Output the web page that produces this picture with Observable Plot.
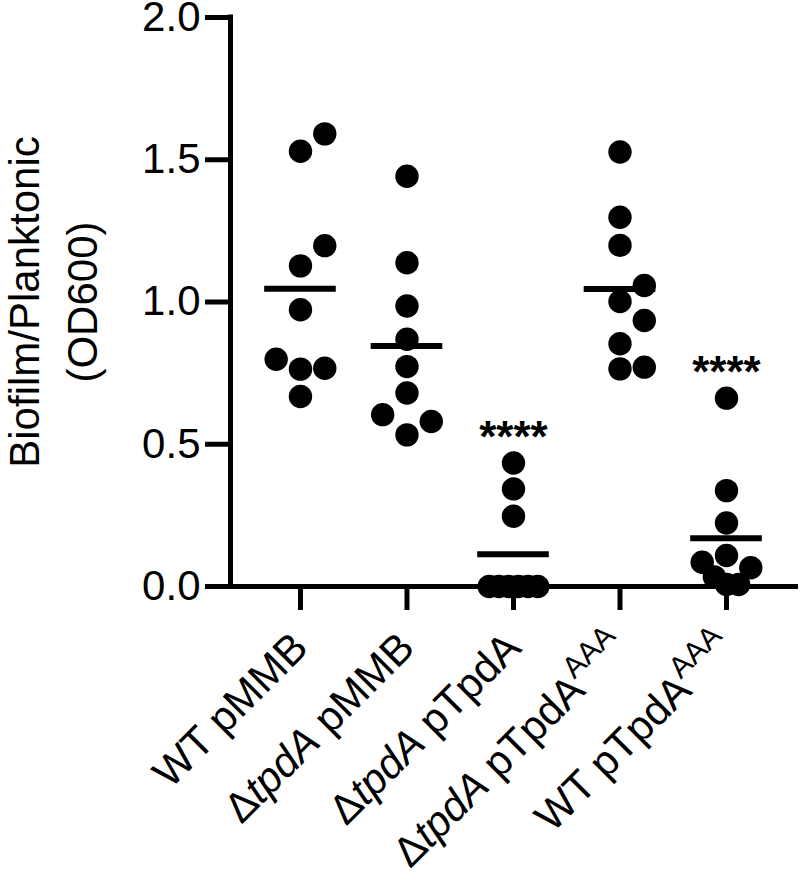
<!DOCTYPE html>
<html><head><meta charset="utf-8">
<script src="https://cdn.jsdelivr.net/npm/d3@7"></script>
<script src="https://cdn.jsdelivr.net/npm/@observablehq/plot@0.6"></script>
<style>html,body{margin:0;padding:0;background:#fff}#chart{width:800px;height:885px}</style>
</head><body><div id="chart"></div>
<script>
// ---- data ----
const categories = ["WT pMMB", "ΔtpdA pMMB", "ΔtpdA pTpdA", "ΔtpdA pTpdAAAA", "WT pTpdAAAA"];
const tickLabels = ["WT pMMB", "Δ<i>tpdA</i> pMMB", "Δ<i>tpdA</i> pTpdA", "Δ<i>tpdA</i> pTpdA<sup>AAA</sup>", "WT pTpdA<sup>AAA</sup>"];
const wtPMMB = [1.591, 1.530, 1.198, 1.127, 0.973, 0.799, 0.767, 0.764, 0.668];
const dTpdAPMMB = [1.442, 1.138, 0.986, 0.869, 0.773, 0.680, 0.604, 0.580, 0.533];
const dTpdAPTpdA = [0.434, 0.343, 0.247, 0, 0, 0, 0, 0, 0];
const dTpdAPTpdAAAA = [1.527, 1.298, 1.199, 1.058, 1.002, 0.935, 0.853, 0.771, 0.765];
const wtPTpdAAAA = [0.662, 0.337, 0.223, 0.109, 0.085, 0.066, 0.034, 0.007, 0.007];
const significance = ["", "", "****", "", "****"];
const yTicks = [0, 0.5, 1.0, 1.5, 2.0];
const yLabel = "Biofilm/Planktonic\n(OD600)";

// ---- layout constants ----
const W = 800, H = 885, mL = 230, mR = 2, mT = 17, mB = 299;
const xDomain = [-0.657, 4.676];
const R = 11.7;
const pxPerX = (W - mL - mR) / (xDomain[1] - xDomain[0]);
const pxPerY = (H - mT - mB) / 2;
const diam = 2 * R / pxPerY;
const slotW = 24.3 / pxPerX;
const meanHalf = 35.8 / pxPerX;

const groups = [wtPMMB, dTpdAPMMB, dTpdAPTpdA, dTpdAPTpdAAAA, wtPTpdAAAA];

// column-scatter placement (ascending, alternate right/left)
function place(values) {
  const order = values.map((v, k) => k).sort((a, b) => values[a] - values[b]);
  const placed = [];
  for (const k of order) {
    const v = values[k];
    const near = placed.filter(p => Math.abs(p.v - v) < diam - 1e-9);
    let s = 0;
    for (let t = 0; ; t++) {
      s = t === 0 ? 0 : (t % 2 ? (t + 1) / 2 : -t / 2);
      if (!near.some(p => p.slot === s)) break;
    }
    placed.push({v, slot: s, off: s});
  }
  // compress clusters that are too wide
  let start = 0;
  for (let j = 1; j <= placed.length; j++) {
    if (j === placed.length || placed[j].v - placed[j - 1].v >= diam) {
      const cl = placed.slice(start, j);
      const mn = d3.min(cl, p => p.slot), mx = d3.max(cl, p => p.slot);
      if (mn < -1 || mx > 1) cl.forEach(p => p.off = -1 + 2 * (p.slot - mn) / (mx - mn));
      start = j;
    }
  }
  return placed;
}

const points = groups.flatMap((vals, i) => place(vals).map(p => ({i, v: p.v, off: p.off})));
const summary = groups.map((vals, i) => ({i, mean: d3.mean(vals), max: d3.max(vals), sig: significance[i]}));

const plot = Plot.plot({
  width: W, height: H, marginLeft: mL, marginRight: mR, marginTop: mT, marginBottom: mB,
  style: {fontFamily: "'Liberation Sans', Arial, sans-serif", fontSize: "42px", color: "black", background: "white"},
  x: {domain: xDomain},
  y: {domain: [0, 2]},
  marks: [
    Plot.axisY({ticks: yTicks, tickFormat: d3.format(".1f"), tickSize: 25, tickPadding: 5, strokeWidth: 5, fontSize: 42, label: null}),
    Plot.axisX({ticks: d3.range(categories.length), tickFormat: i => categories[i], tickSize: 24, tickPadding: 30, tickRotate: -45, strokeWidth: 5, fontSize: 42, label: null}),
    Plot.ruleX([xDomain[0]], {y1: 0, y2: 2, stroke: "black", strokeWidth: 5, strokeLinecap: "square"}),
    Plot.ruleY([0], {stroke: "black", strokeWidth: 5}),
    Plot.ruleY(summary, {y: "mean", x1: d => d.i - meanHalf, x2: d => d.i + meanHalf, stroke: "black", strokeWidth: 6}),
    Plot.dot(points, {x: d => d.i + d.off * slotW, y: "v", r: R, fill: "black", stroke: null}),
    Plot.text(summary.filter(d => d.sig), {x: "i", y: "max", text: "sig", dy: -25, fontSize: 44, fontWeight: "bold", fill: "black"}),
    Plot.text([yLabel], {frameAnchor: "left", textAnchor: "middle", rotate: -90, dx: -181, lineHeight: 1.38, fontSize: 42, fill: "black"})
  ]
});
document.getElementById("chart").appendChild(plot);

// rich tick labels (italic gene names, superscripts)
const NS = "http://www.w3.org/2000/svg";
plot.querySelectorAll('g[aria-label="x-axis tick label"] text').forEach(t => {
  const idx = categories.indexOf(t.textContent);
  if (idx < 0) return;
  const parts = tickLabels[idx].split(/(<i>.*?<\/i>|<sup>.*?<\/sup>)/).filter(s => s.length);
  while (t.firstChild) t.removeChild(t.firstChild);
  parts.forEach(part => {
    const ts = document.createElementNS(NS, "tspan");
    let m;
    if ((m = part.match(/^<i>(.*)<\/i>$/))) { ts.setAttribute("font-style", "italic"); ts.textContent = m[1]; }
    else if ((m = part.match(/^<sup>(.*)<\/sup>$/))) { ts.setAttribute("font-size", "30"); ts.setAttribute("dy", "-18"); ts.textContent = m[1]; }
    else ts.textContent = part;
    t.appendChild(ts);
  });
});
</script>
</body></html>
